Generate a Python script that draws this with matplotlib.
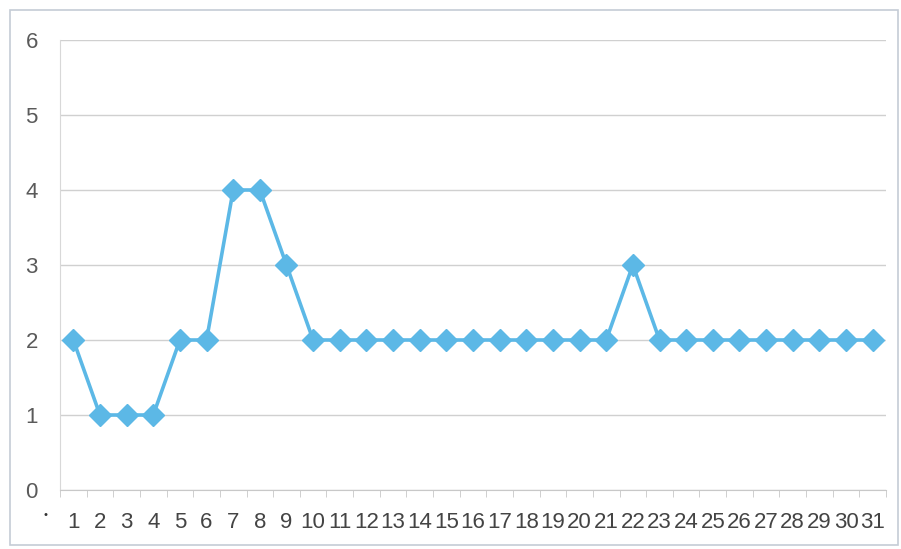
import matplotlib
matplotlib.use("Agg")
import matplotlib.pyplot as plt
from matplotlib.patches import Rectangle

days = list(range(1, 32))
values = [2, 1, 1, 1, 2, 2, 4, 4, 3, 2,
          2, 2, 2, 2, 2, 2, 2, 2, 2, 2,
          2, 3, 2, 2, 2, 2, 2, 2, 2, 2, 2]
x_labels = [str(d) for d in days]
y_ticks = [0, 1, 2, 3, 4, 5, 6]

plt.rcParams['font.family'] = ['Liberation Sans', 'DejaVu Sans']

W, H = 901, 549
fig = plt.figure(figsize=(W / 100, H / 100), dpi=100)
fig.patch.set_facecolor('white')

# outer chart border
fig.patches.append(Rectangle((10 / W, 4 / H), 888 / W, (H - 14) / H,
                             transform=fig.transFigure, fill=False,
                             edgecolor='#c5ccd6', linewidth=1.2))

ax = fig.add_axes([60 / W, (H - 490) / H, (886 - 60) / W, (490 - 40) / H])
ax.plot(days, values, color='#5cb8e6', linewidth=2.6, marker='D',
        markersize=11, markerfacecolor='#5cb8e6', markeredgecolor='#5cb8e6',
        zorder=3)

ax.set_xlim(0.5, 31.5)
ax.set_ylim(0, 6)
ax.set_yticks(y_ticks)
ax.set_yticklabels([str(v) for v in y_ticks])
ax.set_xticks(days)
ax.set_xticklabels(x_labels)
ax.set_xticks([d + 0.5 for d in range(0, 32)], minor=True)

ax.grid(axis='y', color='#d0d0d0', linewidth=1)
ax.set_axisbelow(True)
for s in ['top', 'right']:
    ax.spines[s].set_visible(False)
ax.spines['left'].set_color('#d8d8d8')
ax.spines['bottom'].set_color('#c8c8c8')

ax.tick_params(axis='y', length=0, pad=16, labelsize=16, labelcolor='#5a5a5a')
ax.tick_params(axis='x', which='major', length=0, pad=16, labelsize=16,
               labelcolor='#444444')
ax.tick_params(axis='x', which='minor', length=5, color='#c8c8c8')

fig.text(46 / W, 1 - 515 / H, '•', fontsize=8, color='#333333',
         ha='center', va='center')

fig.savefig('out.png', dpi=100)
